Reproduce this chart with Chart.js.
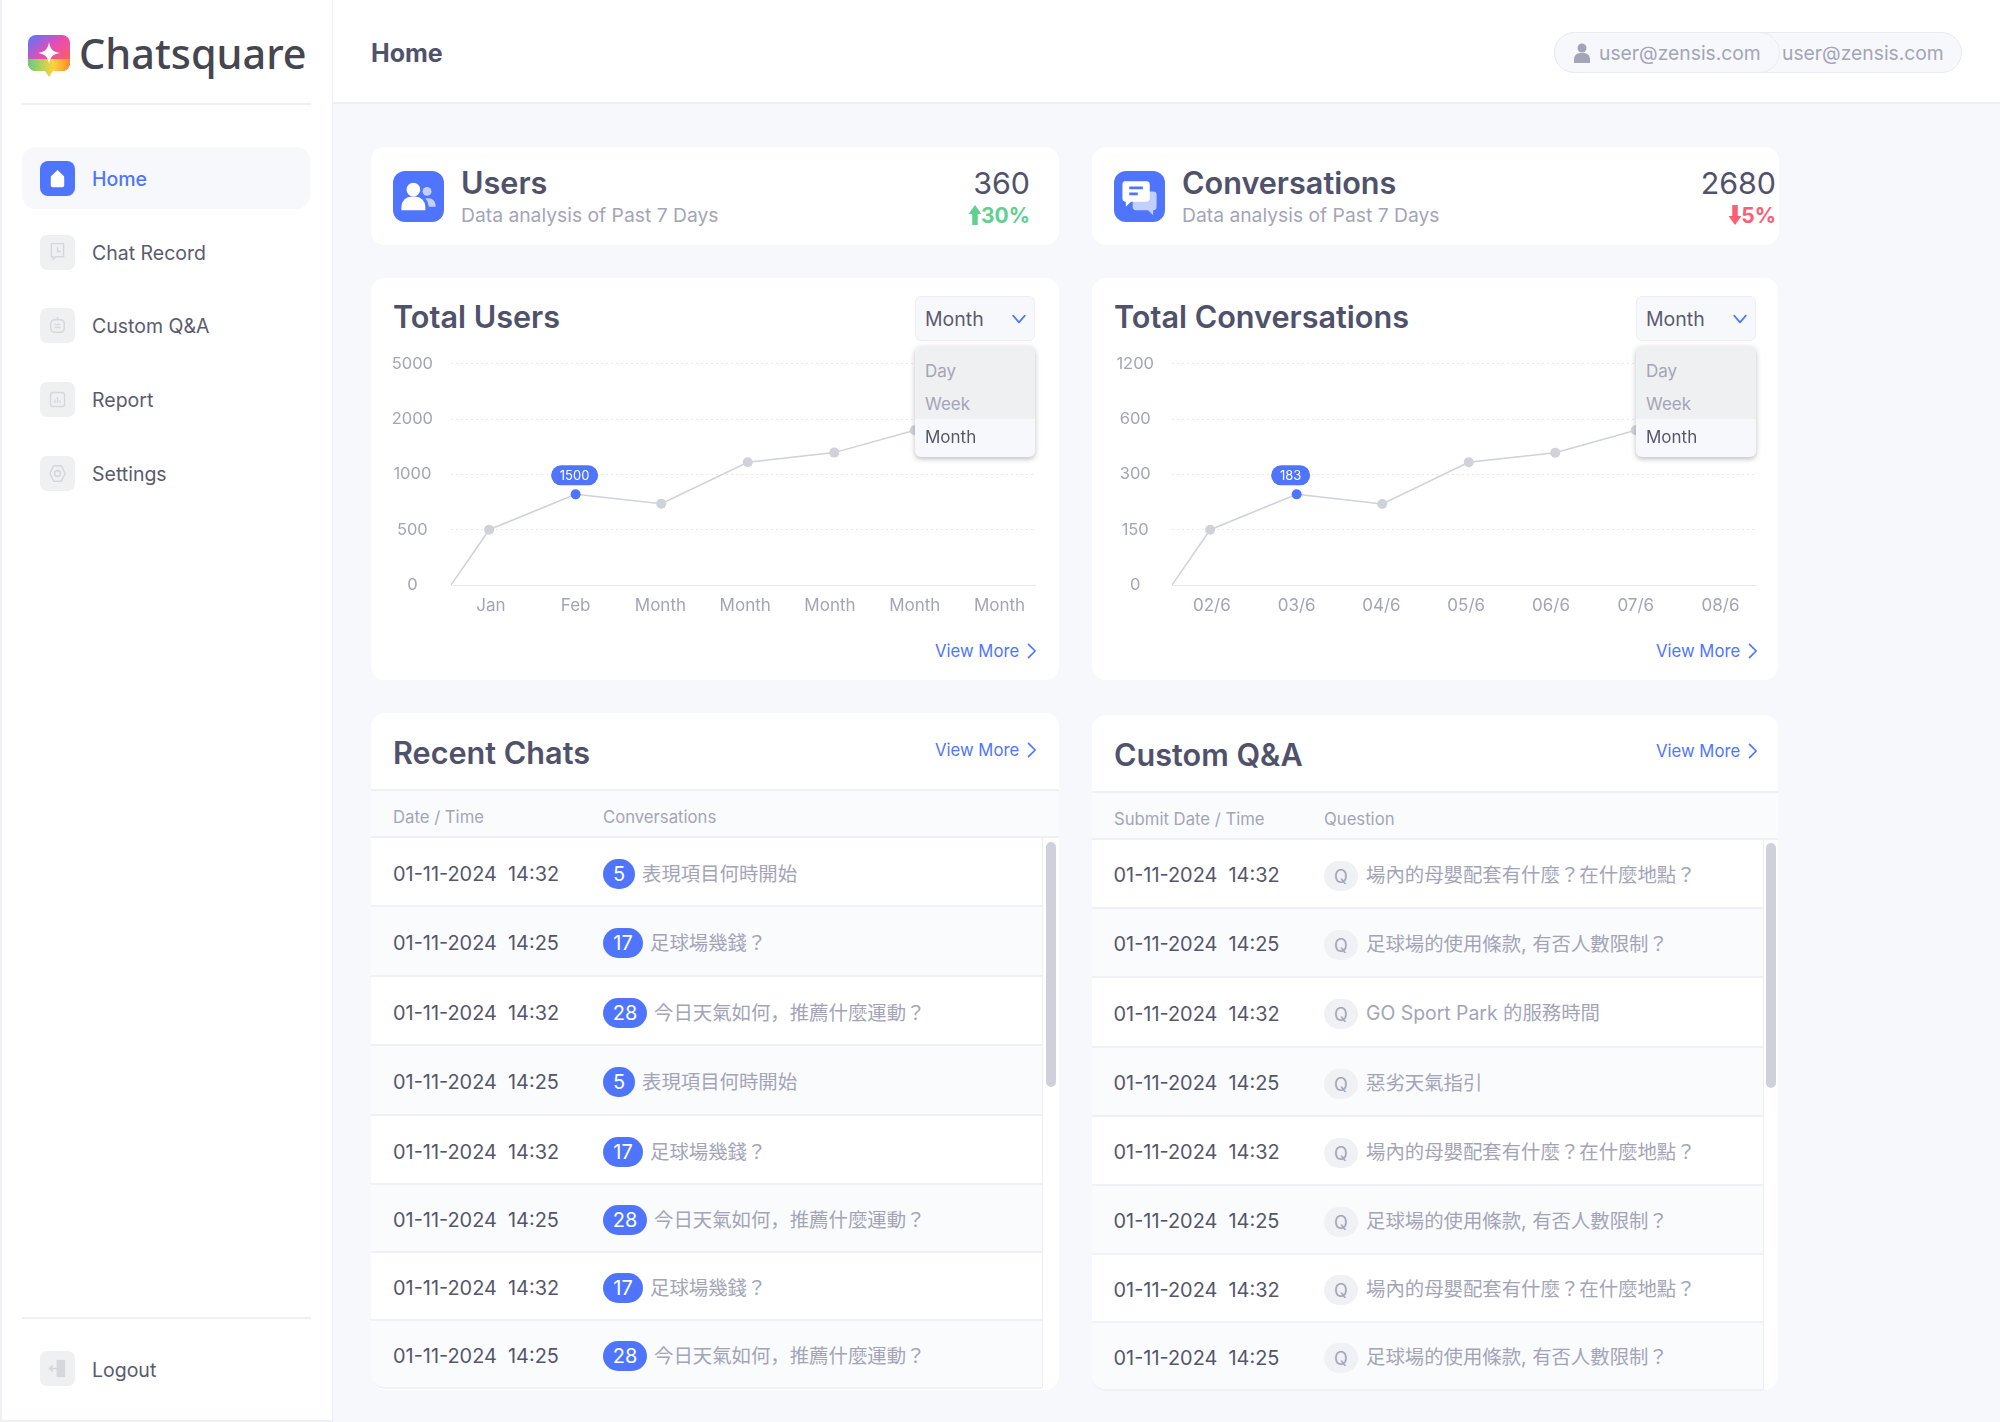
<!DOCTYPE html>
<html>
<head>
<meta charset="utf-8">
<title>Chatsquare</title>
<script src="https://cdn.jsdelivr.net/npm/chart.js"></script>
<style>
  * { box-sizing: border-box; }
  html, body { margin: 0; padding: 0; }
  body { width: 2000px; height: 1422px; position: relative; overflow: hidden; background: #f7f8fc;
    font-family: Inter, "Noto Sans CJK JP", sans-serif; color: #4b4c63; }
  .box, .t, canvas, svg.ic { position: absolute; }
  .t { white-space: pre; transform: translateY(-50%); line-height: 1.2; }
  .title { font-size: 30.6px; font-weight: 600; color: #50516a; }
  .sub { font-size: 19.3px; color: #a3a5b7; }
  .nav { font-size: 19.5px; color: #5a5b6e; }
  .more { font-size: 16.7px; color: #4f75ff; }
  .th { font-size: 16.7px; color: #a3a5b7; }
  .date { font-size: 19.9px; color: #55566a; }
  .q { font-size: 19.4px; color: #a3a5b7; }
</style>
</head>
<body>
<div id="page"></div>
<canvas id="usersChart" width="688" height="289" style="left:371px;top:336px"></canvas>
<canvas id="convChart" width="686" height="289" style="left:1092px;top:336px"></canvas>
<div id="over"></div>

<script>
  // chart data
  var monthLabels = ['Jan', 'Feb', 'Month', 'Month', 'Month', 'Month', 'Month'];
  var dateLabels = ['02/6', '03/6', '04/6', '05/6', '06/6', '07/6', '08/6'];
  var usersTicks = [0, 500, 1000, 2000, 5000];
  var convTicks = [0, 150, 300, 600, 1200];
  var pointSlots = [0.53, 0.98, 2, 3.01, 4.03, 5.05, 6, 7];
  var usersValues = [0, 500, 820, 735, 1220, 1395, 1800, 2800];
  var convValues = [0, 150, 246, 220, 366, 418, 540, 840];

  // table data
  var chatDates = ['01-11-2024  14:32', '01-11-2024  14:25', '01-11-2024  14:32', '01-11-2024  14:25',
                   '01-11-2024  14:32', '01-11-2024  14:25', '01-11-2024  14:32', '01-11-2024  14:25'];
  var chatCounts = ['5', '17', '28', '5', '17', '28', '17', '28'];
  var chatTexts = ['表現項目何時開始', '足球場幾錢？', '今日天氣如何，推薦什麼運動？', '表現項目何時開始',
                   '足球場幾錢？', '今日天氣如何，推薦什麼運動？', '足球場幾錢？', '今日天氣如何，推薦什麼運動？'];
  var qaTexts = ['場內的母嬰配套有什麼？在什麼地點？', '足球場的使用條款, 有否人數限制？', 'GO Sport Park 的服務時間', '惡劣天氣指引',
                 '場內的母嬰配套有什麼？在什麼地點？', '足球場的使用條款, 有否人數限制？', '場內的母嬰配套有什麼？在什麼地點？', '足球場的使用條款, 有否人數限制？'];

  var BLUE = '#4f75ff';
  var html = '';

  function text(cls, x, y, s, extra) {
    html += '<div class="t ' + cls + '" style="left:' + x + 'px;top:' + y + 'px;' + (extra || '') + '">' + s + '</div>';
  }
  function box(x, y, w, h, css, inner) {
    html += '<div class="box" style="left:' + x + 'px;top:' + y + 'px;width:' + w + 'px;height:' + h + 'px;' + css + '">' + (inner || '') + '</div>';
  }
  function icon(x, y, s, body) {
    html += '<svg class="ic" style="left:' + x + 'px;top:' + y + 'px" width="' + s + '" height="' + s + '" viewBox="0 0 24 24">' + body + '</svg>';
  }
  function viewMore(x, y) {
    text('more', x, y, 'View More');
    icon(x + 86, y - 10, 20, '<path d="M9 4l8 8-8 8" fill="none" stroke="' + BLUE + '" stroke-width="2" stroke-linecap="round" stroke-linejoin="round"/>');
  }

  // sidebar and header
  box(0, 0, 333, 1422, 'background:#fff;border-left:2px solid #eff0f4;border-right:1px solid #eceef3;border-bottom:2px solid #eff0f4');
  box(333, 0, 1667, 104, 'background:#fff;border-bottom:2px solid #eff0f3');
  box(21, 103, 290, 2, 'background:#eff0f3');
  html += '<svg class="ic" style="left:27px;top:35px" width="44" height="44" viewBox="0 0 44 44"><defs>' +
    '<linearGradient id="lg" x1="0" y1="0" x2="1" y2="1"><stop offset="0" stop-color="#4f7bff"/><stop offset=".45" stop-color="#e84bb5"/><stop offset="1" stop-color="#ff6a3d"/></linearGradient>' +
    '<linearGradient id="lg2" x1="0" y1="0" x2="1" y2="0"><stop offset="0" stop-color="#5fd07a"/><stop offset=".6" stop-color="#ffd23f"/><stop offset="1" stop-color="#ff8a2a"/></linearGradient></defs>' +
    '<rect x="1" y="0" width="42" height="36" rx="8" fill="url(#lg)"/><path d="M1 24h42v4a8 8 0 0 1-8 8h-9l-4 6-4-6H9a8 8 0 0 1-8-8z" fill="url(#lg2)"/>' +
    '<path d="M22 7c1 7 4 10 11 11-7 1-10 4-11 11-1-7-4-10-11-11 7-1 10-4 11-11z" fill="#fff"/></svg>';
  text('', 79, 53.5, 'Chatsquare', 'font-family:&quot;Noto Sans&quot;;font-size:41.4px;font-weight:500;color:#45464f');
  text('', 371, 53, 'Home', 'font-size:25px;font-weight:700;color:#50516a');

  box(22, 147, 288, 62, 'background:#f7f8fc;border-radius:14px');
  box(40, 161, 35, 35, 'background:' + BLUE + ';border-radius:8px');
  icon(46, 167, 23, '<path d="M12 3l7 7v9a2 2 0 0 1-2 2H7a2 2 0 0 1-2-2v-9z" fill="#fff"/>');
  text('nav', 92, 180, 'Home', 'color:' + BLUE + ';font-weight:500');

  var greyGlyph = 'fill="none" stroke="#d5d7dd" stroke-width="1.6"';
  box(40, 235, 35, 35, 'background:#eef0f2;border-radius:7px');
  icon(47, 241, 21, '<path d="M5 3h14v15H10l-3 3v-3H5z" ' + greyGlyph + '/><path d="M12 7v5h4" ' + greyGlyph + '/>');
  text('nav', 92, 254, 'Chat Record');
  box(40, 308, 35, 35, 'background:#eef0f2;border-radius:7px');
  icon(46, 314, 23, '<rect x="5" y="6" width="14" height="13" rx="4" ' + greyGlyph + '/><path d="M9 11h6M9 14h6M12 6V3" ' + greyGlyph + '/>');
  text('nav', 92, 327, 'Custom Q&amp;A');
  box(40, 382, 35, 35, 'background:#eef0f2;border-radius:7px');
  icon(47, 389, 21, '<rect x="4" y="4" width="16" height="16" rx="3" ' + greyGlyph + '/><path d="M9 16v-4M12 16V9M15 16v-3" ' + greyGlyph + '/>');
  text('nav', 92, 401, 'Report');
  box(40, 456, 35, 35, 'background:#eef0f2;border-radius:7px');
  icon(46, 462, 23, '<path d="M8 4h8l4 8-4 8H8l-4-8z" ' + greyGlyph + '/><circle cx="12" cy="12" r="3" ' + greyGlyph + '/>');
  text('nav', 92, 475, 'Settings');

  box(22, 1317, 289, 2, 'background:#eff0f3');
  box(40, 1351, 35, 35, 'background:#eef0f2;border-radius:7px');
  icon(46, 1357, 23, '<rect x="11" y="3" width="9" height="18" fill="#d5d7dd"/><path d="M4 12h9M7 9l-3 3 3 3" fill="none" stroke="#d5d7dd" stroke-width="1.8"/>');
  text('nav', 92, 1371, 'Logout');

  // user pill
  box(1554, 32, 408, 41, 'background:#f7f8fc;border:1.5px solid #e9ebf0;border-radius:21px');
  box(1554, 32, 226, 41, 'background:#f7f8fc;border:1.5px solid #e9ebf0;border-radius:21px');
  icon(1570, 41, 24, '<circle cx="12" cy="7" r="4.5" fill="#a3a5b7"/><path d="M4 22v-4a6 6 0 0 1 6-6h4a6 6 0 0 1 6 6v4z" fill="#a3a5b7"/>');
  text('sub', 1599, 53.5, 'user@zensis.com');
  text('sub', 1782, 53.5, 'user@zensis.com');

  // stat cards
  function statCard(x, w, rightX, arrowOff, name, value, pct, up, glyph) {
    box(x, 147, w, 98, 'background:#fff;border-radius:14px');
    box(x + 22, 171, 51, 51, 'background:' + BLUE + ';border-radius:12px');
    icon(x + 27, 176, 41, glyph);
    text('title', x + 90, 183, name);
    text('sub', x + 90, 215.5, 'Data analysis of Past 7 Days');
    var right = 2000 - rightX;
    text('', 0, 183, value, 'left:auto;right:' + right + 'px;font-size:30.4px;color:#50516a');
    var col = up ? '#5fd08f' : '#ff5d73';
    text('', 0, 215.5, pct, 'left:auto;right:' + right + 'px;font-size:21px;font-weight:700;color:' + col);
    var shaft = up ? 'M12 1L5 11h4v12h6V11h4z' : 'M12 23l7-10h-4V1H9v12H5z';
    icon(rightX - arrowOff, 204, 22, '<path d="' + shaft + '" fill="' + col + '"/>');
  }
  statCard(371, 688, 1030, 66, 'Users', '360', '30%', true,
    '<circle cx="9" cy="8" r="4" fill="#fff"/><path d="M2 20v-2a6 6 0 0 1 6-6h2a6 6 0 0 1 6 6v2z" fill="#fff"/><circle cx="17" cy="9" r="2.6" fill="#c2d0ff"/><path d="M16 13h2a4 4 0 0 1 4 4v1h-4a8 8 0 0 0-2-5z" fill="#c2d0ff"/>');
  statCard(1092, 687, 1776, 52, 'Conversations', '2680', '5%', false,
    '<path d="M8 9h12a2 2 0 0 1 2 2v7a2 2 0 0 1-2 2v3l-3-3H10a2 2 0 0 1-2-2z" fill="#c2d0ff"/><path d="M3 3h13a2 2 0 0 1 2 2v8a2 2 0 0 1-2 2H7l-3 3v-3a2 2 0 0 1-2-2V5a2 2 0 0 1 1-2z" fill="#fff"/><path d="M6 7h8M6 10.500h5" stroke="' + BLUE + '" stroke-width="1.6"/>');

  // chart cards, canvases sit on top of these
  function chartCard(x, w, name, moreX) {
    box(x, 278, w, 402, 'background:#fff;border-radius:14px');
    text('title', x + 22, 317, name);
    viewMore(moreX, 651);
  }
  chartCard(371, 688, 'Total Users', 935);
  chartCard(1092, 686, 'Total Conversations', 1656);

  // tables
  function tableCard(x, w, top, name, col1, col2, moreX, viewY, rowTops, gutterX, thumbX, thumbTop, rowFn) {
    box(x, top, w, 1390 - top, 'background:#fff;border-radius:14px');
    text('title', x + 22, top + 40, name);
    viewMore(moreX, viewY);
    box(x, top + 76, w, 2, 'background:#eff0f3');
    box(x, top + 78, w, rowTops[0] - top - 78, 'background:#fafbfd');
    box(x, rowTops[0] - 2, w, 2, 'background:#eff0f3');
    text('th', x + 22, top + 103.5, col1);
    text('th', x + 232, top + 103.5, col2);
    for (var i = 0; i < 8; i++) {
      var y = rowTops[i], h = rowTops[i + 1] - y;
      box(x, y, gutterX - x, h, 'background:' + (i % 2 ? '#fafbfd' : '#fff') + ';border-bottom:2px solid #f0f1f4;' + (i === 7 ? 'border-radius:0 0 0 14px' : ''));
      rowFn(i, y + h / 2);
    }
    box(gutterX, rowTops[0], 1, rowTops[8] - rowTops[0] - 1, 'background:#eceef3');
    box(thumbX, thumbTop, 10, 245, 'background:#ced1da;border-radius:5px');
  }
  var chatTops = [838, 907, 977, 1046, 1116, 1185, 1253, 1321, 1389];
  var qaTops = [840, 909, 978, 1048, 1117, 1186, 1255, 1323, 1391];
  var badgeW = { '5': 32, '17': 40, '28': 44 };

  tableCard(371, 688, 713, 'Recent Chats', 'Date / Time', 'Conversations', 935, 750, chatTops, 1042, 1046, 842, function (i, cy) {
    text('date', 393, cy + 2, chatDates[i]);
    var w = badgeW[chatCounts[i]];
    box(603, cy - 14, w, 30, 'border-radius:15px;background:' + BLUE + ';color:#fff;font-size:20px;text-align:center;line-height:31px', chatCounts[i]);
    text('q', 603 + w + 7, cy + 2, chatTexts[i]);
  });
  tableCard(1092, 686, 715, 'Custom Q&amp;A', 'Submit Date / Time', 'Question', 1656, 751, qaTops, 1763, 1766, 843, function (i, cy) {
    text('date', 1113.5, cy + 1.5, chatDates[i]);
    box(1324, cy - 14, 34, 30, 'border-radius:15px;background:#f0f1f4;color:#a3a5b7;font-size:18px;text-align:center;line-height:31px', 'Q');
    text('q', 1366, cy + 1, qaTexts[i]);
  });

  document.getElementById('page').innerHTML = html;

  // select + open menu, above the canvases
  html = '';
  function dropdown(x) {
    box(x, 296, 120, 45, 'background:#f7f8fc;border:1.5px solid #eceef3;border-radius:6px');
    text('', x + 10, 320, 'Month', 'font-size:19.5px;color:#5a5b6e');
    icon(x + 94, 309, 20, '<path d="M5 8l7 8 7-8" fill="none" stroke="' + BLUE + '" stroke-width="2" stroke-linecap="round" stroke-linejoin="round"/>');
    box(x, 346, 120, 111, 'background:#f7f8fc;border-radius:6px;box-shadow:0 2px 5px rgba(70,70,90,.35);overflow:hidden');
    box(x, 346, 120, 73, 'background:#eef0f2;border-radius:6px 6px 0 0');
    text('', x + 10, 370.5, 'Day', 'font-size:17px;color:#a3a5b7');
    text('', x + 10, 404, 'Week', 'font-size:17px;color:#a3a5b7');
    text('', x + 10, 436.5, 'Month', 'font-size:17px;color:#55566a');
  }
  dropdown(915);
  dropdown(1636);
  document.getElementById('over').innerHTML = html;

  // y axis is evenly stepped, not linear: map a value to its place between ticks
  function tickPos(ticks, v) {
    for (var i = 0; i < ticks.length - 1; i++) {
      if (v <= ticks[i + 1]) return i + (v - ticks[i]) / (ticks[i + 1] - ticks[i]);
    }
    return ticks.length - 1;
  }

  var pointBadge = {
    id: 'pointBadge',
    afterDatasetsDraw: function (chart, args, opts) {
      var p = chart.getDatasetMeta(0).data[opts.index];
      var c = chart.ctx, w = opts.width, h = 20;
      var cx = p.x + opts.dx, cy = p.y - 19;
      c.save();
      c.fillStyle = BLUE;
      c.beginPath();
      c.roundRect(cx - w / 2, cy - h / 2, w, h, 10);
      c.fill();
      c.fillStyle = '#fff';
      c.font = '13px Inter';
      c.textAlign = 'center';
      c.textBaseline = 'middle';
      c.fillText(opts.text, cx, cy + 0.5);
      c.restore();
    }
  };

  function drawChart(id, labels, ticks, values, badge) {
    new Chart(document.getElementById(id), {
      type: 'line',
      data: {
        datasets: [{
          data: values.map(function (v, i) { return { x: pointSlots[i], y: tickPos(ticks, v) }; }),
          borderColor: '#d0d2da',
          borderWidth: 1.5,
          tension: 0,
          pointRadius: function (ctx) { return ctx.dataIndex === 0 ? 0 : 5; },
          pointBorderWidth: 0,
          pointBackgroundColor: function (ctx) { return ctx.dataIndex === badge.index ? BLUE : '#d0d2da'; }
        }]
      },
      options: {
        responsive: false,
        animation: false,
        layout: { padding: { top: 8, right: id === 'usersChart' ? 23 : 21, left: 0, bottom: 0 } },
        plugins: { legend: { display: false }, tooltip: { enabled: false }, pointBadge: badge },
        scales: {
          x: {
            type: 'linear',
            min: 0.53,
            max: 7.43,
            afterBuildTicks: function (s) { s.ticks = labels.map(function (l, i) { return { value: i + 1 }; }); },
            afterFit: function (s) { s.height = 40; },
            grid: { display: false },
            border: { display: false },
            ticks: {
              autoSkip: false, maxRotation: 0, padding: 3, color: '#a3a5b7',
              font: { family: 'Inter', size: 17 },
              callback: function (v) { return labels[v - 1]; }
            }
          },
          y: {
            min: 0,
            max: ticks.length - 1,
            afterFit: function (s) { s.width = 80; },
            grid: { drawTicks: false, color: '#e8e9ef', lineWidth: 1 },
            border: { display: false, dash: function (ctx) { return ctx.tick && ctx.tick.value === 0 ? [] : [2, 3]; } },
            ticks: {
              stepSize: 1, padding: 18, crossAlign: 'center', color: '#a3a5b7',
              font: { family: 'Inter', size: 16.5 },
              callback: function (v) { return ticks[v]; }
            }
          }
        }
      },
      plugins: [pointBadge]
    });
  }

  drawChart('usersChart', monthLabels, usersTicks, usersValues, { index: 2, text: '1500', width: 47, dx: -1 });
  drawChart('convChart', dateLabels, convTicks, convValues, { index: 2, text: '183', width: 39, dx: -6 });
</script>
</body>
</html>
